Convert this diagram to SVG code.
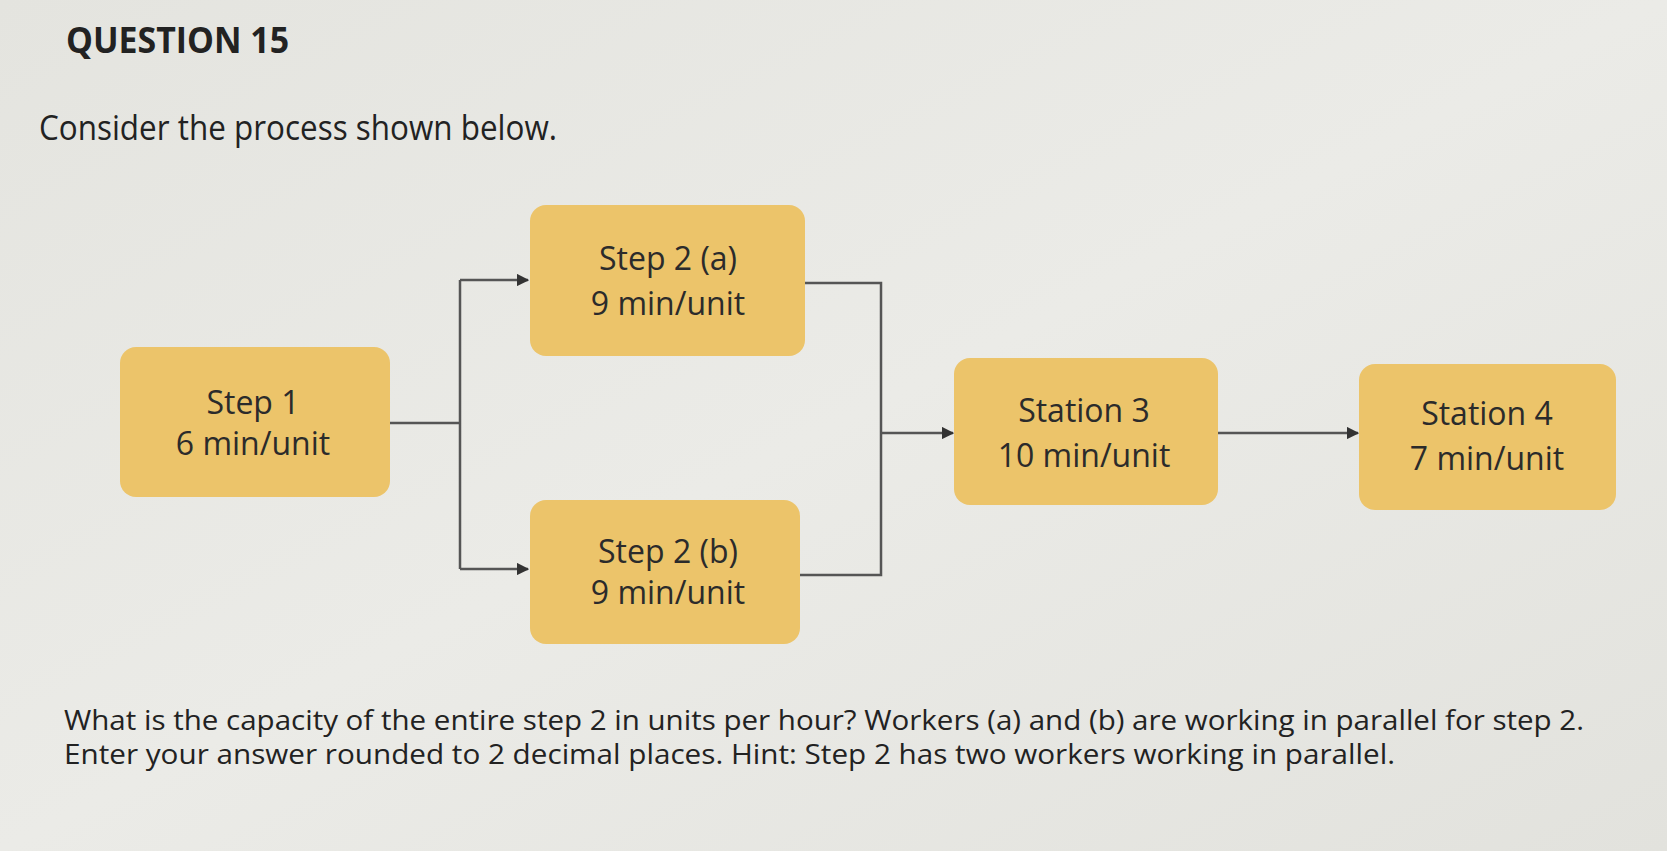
<svg xmlns="http://www.w3.org/2000/svg" width="1667" height="851" viewBox="0 0 1667 851">
<defs>
<linearGradient id="bg" x1="0" y1="0" x2="1" y2="1">
<stop offset="0" stop-color="#e4e4df"/>
<stop offset="0.5" stop-color="#ebebe7"/>
<stop offset="1" stop-color="#e2e2dd"/>
</linearGradient>
<marker id="arr" viewBox="0 0 10 10" refX="9" refY="5" markerWidth="5" markerHeight="5" orient="auto" markerUnits="strokeWidth">
<path d="M0,0 L10,5 L0,10 z" fill="#333"/>
</marker>
<style>
.box{fill:#ecc46a;}
.lbl{font-family:"Open Sans","Noto Sans","Liberation Sans",sans-serif;font-size:32px;fill:#2b2b2b;text-anchor:middle;}
.txt{font-family:"Open Sans","Noto Sans","Liberation Sans",sans-serif;fill:#222;}
.con{fill:none;stroke:#555;stroke-width:2.5;}
</style>
</defs>
<rect width="1667" height="851" fill="url(#bg)"/>
<text class="txt" x="66" y="53" font-size="36" font-weight="bold" textLength="223" lengthAdjust="spacingAndGlyphs">QUESTION 15</text>
<text class="txt" x="39" y="140" font-size="34" textLength="518" lengthAdjust="spacingAndGlyphs">Consider the process shown below.</text>

<g id="connectors">
<polyline class="con" points="390,423 460,423"/>
<polyline class="con" points="460,280 460,569"/>
<polyline class="con" points="460,280 528,280" marker-end="url(#arr)"/>
<polyline class="con" points="460,569 528,569" marker-end="url(#arr)"/>
<polyline class="con" points="805,283 881,283 881,575 800,575"/>
<polyline class="con" points="881,433 953,433" marker-end="url(#arr)"/>
<polyline class="con" points="1218,433 1358,433" marker-end="url(#arr)"/>
</g>

<g id="step1">
<rect class="box" x="120" y="347" width="270" height="150" rx="16"/>
<text class="lbl" x="253" y="414">Step 1</text>
<text class="lbl" x="253" y="455">6 min/unit</text>
</g>
<g id="step2a">
<rect class="box" x="530" y="205" width="275" height="151" rx="16"/>
<text class="lbl" x="668" y="270">Step 2 (a)</text>
<text class="lbl" x="668" y="315">9 min/unit</text>
</g>
<g id="step2b">
<rect class="box" x="530" y="500" width="270" height="144" rx="16"/>
<text class="lbl" x="668" y="563">Step 2 (b)</text>
<text class="lbl" x="668" y="604">9 min/unit</text>
</g>
<g id="station3">
<rect class="box" x="954" y="358" width="264" height="147" rx="16"/>
<text class="lbl" x="1084" y="422">Station 3</text>
<text class="lbl" x="1084" y="467">10 min/unit</text>
</g>
<g id="station4">
<rect class="box" x="1359" y="364" width="257" height="146" rx="16"/>
<text class="lbl" x="1487" y="425">Station 4</text>
<text class="lbl" x="1487" y="470">7 min/unit</text>
</g>

<text class="txt" x="64" y="730" font-size="27" textLength="1520" lengthAdjust="spacingAndGlyphs">What is the capacity of the entire step 2 in units per hour? Workers (a) and (b) are working in parallel for step 2.</text>
<text class="txt" x="64" y="764" font-size="27" textLength="1331" lengthAdjust="spacingAndGlyphs">Enter your answer rounded to 2 decimal places. Hint: Step 2 has two workers working in parallel.</text>
</svg>
